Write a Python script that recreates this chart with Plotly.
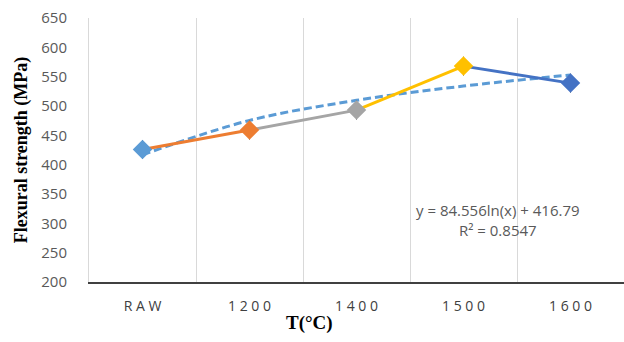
import plotly.graph_objects as go
import numpy as np

categories = ["RAW", "1200", "1400", "1500", "1600"]
tick_labels = ["R A W", "1 2 0 0", "1 4 0 0", "1 5 0 0", "1 6 0 0"]
strength = [426, 459, 493, 568, 539]
error = [16, 16, 16, 16, 16]
marker_colors = ["#5B9BD5", "#ED7D31", "#A5A5A5", "#FFC000", "#4472C4"]
segment_colors = ["#ED7D31", "#A5A5A5", "#FFC000", "#4472C4"]
trend_a = 84.556
trend_b = 416.79
trend_label = "y = 84.556ln(x) + 416.79<br>R² = 0.8547"

trend_y = [trend_a * np.log(i + 1) + trend_b for i in range(len(categories))]

fig = go.Figure()

# trendline
fig.add_trace(go.Scatter(x=categories, y=trend_y, mode="lines",
                         line=dict(color="#5B9BD5", width=3, dash="8px,4px", shape="spline"),
                         hoverinfo="skip", showlegend=False))

# coloured segments
for k, col in enumerate(segment_colors):
    fig.add_trace(go.Scatter(x=categories[k:k + 2], y=strength[k:k + 2], mode="lines",
                             line=dict(color=col, width=3),
                             hoverinfo="skip", showlegend=False))

# markers with error bars
fig.add_trace(go.Scatter(x=categories, y=strength, mode="markers",
                         marker=dict(symbol="diamond", size=15, color=marker_colors),
                         error_y=dict(type="data", array=error, color="#222222", thickness=1, width=0),
                         showlegend=False))

fig.add_annotation(x=(498 - 89) / 535, y=(282 - 220) / 264, xref="paper", yref="paper",
                   text=trend_label, showarrow=False,
                   font=dict(family="Open Sans", size=15, color="#595959"), align="center",
                   xanchor="center", yanchor="middle")

fig.add_annotation(x=(309 - 89) / 535, y=-(323 - 282) / 264, xref="paper", yref="paper",
                   text="<b>T(°C)</b>", showarrow=False,
                   font=dict(family="Liberation Serif", size=19, color="black"),
                   xanchor="center", yanchor="middle")

fig.update_layout(
    width=624, height=342,
    margin=dict(l=89, r=0, t=18, b=60),
    paper_bgcolor="white", plot_bgcolor="white",
    showlegend=False,
    xaxis=dict(
        type="category",
        categoryorder="array", categoryarray=categories,
        range=[-0.5, 4.5],
        tickmode="array", tickvals=categories, ticktext=tick_labels,
        tickson="boundaries",
        showgrid=True, gridcolor="#D9D9D9", gridwidth=1,
        showline=True, linecolor="#404040", linewidth=1.5,
        ticks="", zeroline=False,
        tickfont=dict(family="Open Sans", size=14, color="#404040"),
        ticklabelstandoff=10,
    ),
    yaxis=dict(
        range=[200, 650], tickmode="linear", tick0=200, dtick=50,
        showgrid=False, zeroline=False, showline=True, linecolor="#D9D9D9", linewidth=1,
        ticks="",
        tickfont=dict(family="Open Sans", size=15, color="#595959"),
        ticklabelstandoff=18,
        title=dict(text="<b>Flexural strength (MPa)</b>", font=dict(family="Liberation Serif", size=18, color="black"), standoff=8),
    ),
)

fig.write_html("out.html")
